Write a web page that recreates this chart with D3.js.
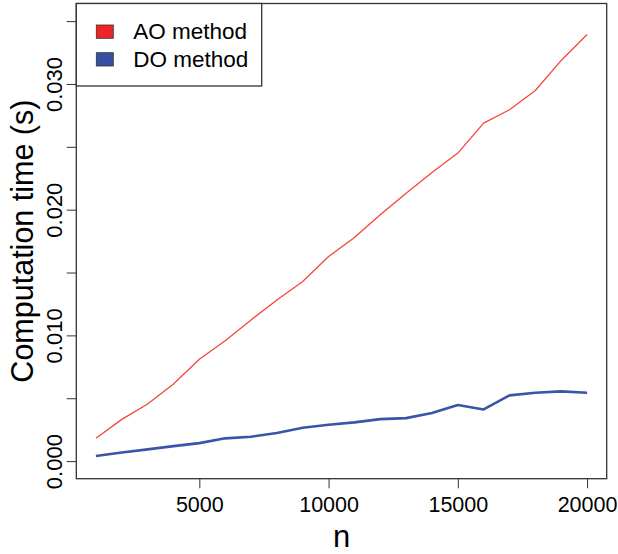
<!DOCTYPE html>
<html>
<head>
<meta charset="utf-8">
<script src="https://cdn.jsdelivr.net/npm/d3@7"></script>
<style>
  body { margin: 0; background: #fff; }
  svg { display: block; font-family: "Liberation Sans", Arial, sans-serif; }
</style>
</head>
<body>
<svg id="chart" width="618" height="554"></svg>
<script>
// problem sizes
const sizes = [1000, 2000, 3000, 4000, 5000, 6000, 7000, 8000, 9000, 10000,
               11000, 12000, 13000, 14000, 15000, 16000, 17000, 18000, 19000, 20000];
// computation time (s)
const aoTimes = [0.00181, 0.00332, 0.00454, 0.00613, 0.00810, 0.00958, 0.01123, 0.01282, 0.01428, 0.01627,
                 0.01778, 0.01959, 0.02131, 0.02295, 0.02450, 0.02689, 0.02795, 0.02948, 0.03187, 0.03394];
const doTimes = [0.00040, 0.00069, 0.00093, 0.00119, 0.00143, 0.00181, 0.00194, 0.00223, 0.00265, 0.00289,
                 0.00308, 0.00334, 0.00342, 0.00383, 0.00446, 0.00411, 0.00523, 0.00544, 0.00555, 0.00544];
const seriesNames = ["AO method", "DO method"];
const xTicks = [5000, 10000, 15000, 20000];
const yTicks = [0, 0.005, 0.01, 0.015, 0.02, 0.025, 0.03, 0.035];
const yLabelled = [0, 0.01, 0.02, 0.03];

const lineColors = ["#f4473a", "#3a54a8"];
const boxColors = ["#ee2327", "#3550a2"];

const svg = d3.select("#chart");
const plot = { left: 76.3, right: 606.7, top: 3.5, bottom: 478.7 };

// R style: data range padded by 4% on each side
const x = d3.scaleLinear().domain([240, 20760]).range([plot.left, plot.right]);
const y = d3.scaleLinear().domain([-0.0014, 0.0364]).range([plot.bottom, plot.top]);

const series = [aoTimes, doTimes].map((vals, i) => ({
    name: seriesNames[i],
    values: sizes.map((n, j) => ({ n, t: vals[j] }))
}));

const line = d3.line()
    .x(d => x(d.n))
    .y(d => y(d.t));

svg.selectAll("path.series")
    .data(series)
    .join("path")
    .attr("class", "series")
    .attr("d", d => line(d.values))
    .attr("fill", "none")
    .attr("stroke", (d, i) => lineColors[i])
    .attr("stroke-width", (d, i) => i === 0 ? 1.3 : 2.6)
    .attr("stroke-linejoin", "round");

// x axis
const gx = svg.append("g")
    .attr("transform", `translate(0,${plot.bottom})`)
    .call(d3.axisBottom(x).tickValues(xTicks).tickSize(9.6).tickFormat(d3.format("d")));
gx.select(".domain").remove();
gx.selectAll("line").attr("stroke", "#333");
gx.selectAll("text")
    .attr("y", 33.3)
    .attr("dy", 0)
    .attr("fill", "#000")
    .style("font-size", "21.5px")
    .style("font-family", "Liberation Sans, Arial, sans-serif");

// y axis
const gy = svg.append("g")
    .attr("transform", `translate(${plot.left},0)`)
    .call(d3.axisLeft(y).tickValues(yTicks).tickSize(9.6)
        .tickFormat(d => yLabelled.some(v => Math.abs(v - d) < 1e-9) ? d3.format(".3f")(d) : ""));
gy.select(".domain").remove();
gy.selectAll("line").attr("stroke", "#333");
gy.selectAll("text")
    .attr("transform", "rotate(-90)")
    .attr("x", 0)
    .attr("y", -14.6)
    .attr("dy", 0)
    .attr("text-anchor", "middle")
    .attr("fill", "#000")
    .style("font-size", "22px")
    .style("font-family", "Liberation Sans, Arial, sans-serif");

// plot box
svg.append("rect")
    .attr("x", plot.left).attr("y", plot.top)
    .attr("width", plot.right - plot.left).attr("height", plot.bottom - plot.top)
    .attr("fill", "none")
    .attr("stroke", "#333")
    .attr("stroke-width", 1.3);

// axis titles
svg.append("text")
    .attr("x", (plot.left + plot.right) / 2)
    .attr("y", 546.5)
    .attr("text-anchor", "middle")
    .style("font-size", "31px")
    .text("n");

svg.append("text")
    .attr("transform", `translate(33,${(plot.top + plot.bottom) / 2}) rotate(-90)`)
    .attr("text-anchor", "middle")
    .style("font-size", "30.5px")
    .text("Computation time (s)");

// legend
const legend = svg.append("g");
legend.append("rect")
    .attr("x", plot.left).attr("y", plot.top)
    .attr("width", 261.7 - plot.left).attr("height", 86 - plot.top)
    .attr("fill", "#fff")
    .attr("stroke", "#333")
    .attr("stroke-width", 1.3);

const items = legend.selectAll("g.item")
    .data(seriesNames)
    .join("g")
    .attr("class", "item")
    .attr("transform", (d, i) => `translate(0,${i * 27.7})`);

items.append("rect")
    .attr("x", 96.3).attr("y", 25)
    .attr("width", 17).attr("height", 13.3)
    .attr("fill", (d, i) => boxColors[i])
    .attr("stroke", "#333")
    .attr("stroke-width", 0.8);

items.append("text")
    .attr("x", 133.3)
    .attr("y", 39)
    .style("font-size", "22.5px")
    .text(d => d);
</script>
</body>
</html>
